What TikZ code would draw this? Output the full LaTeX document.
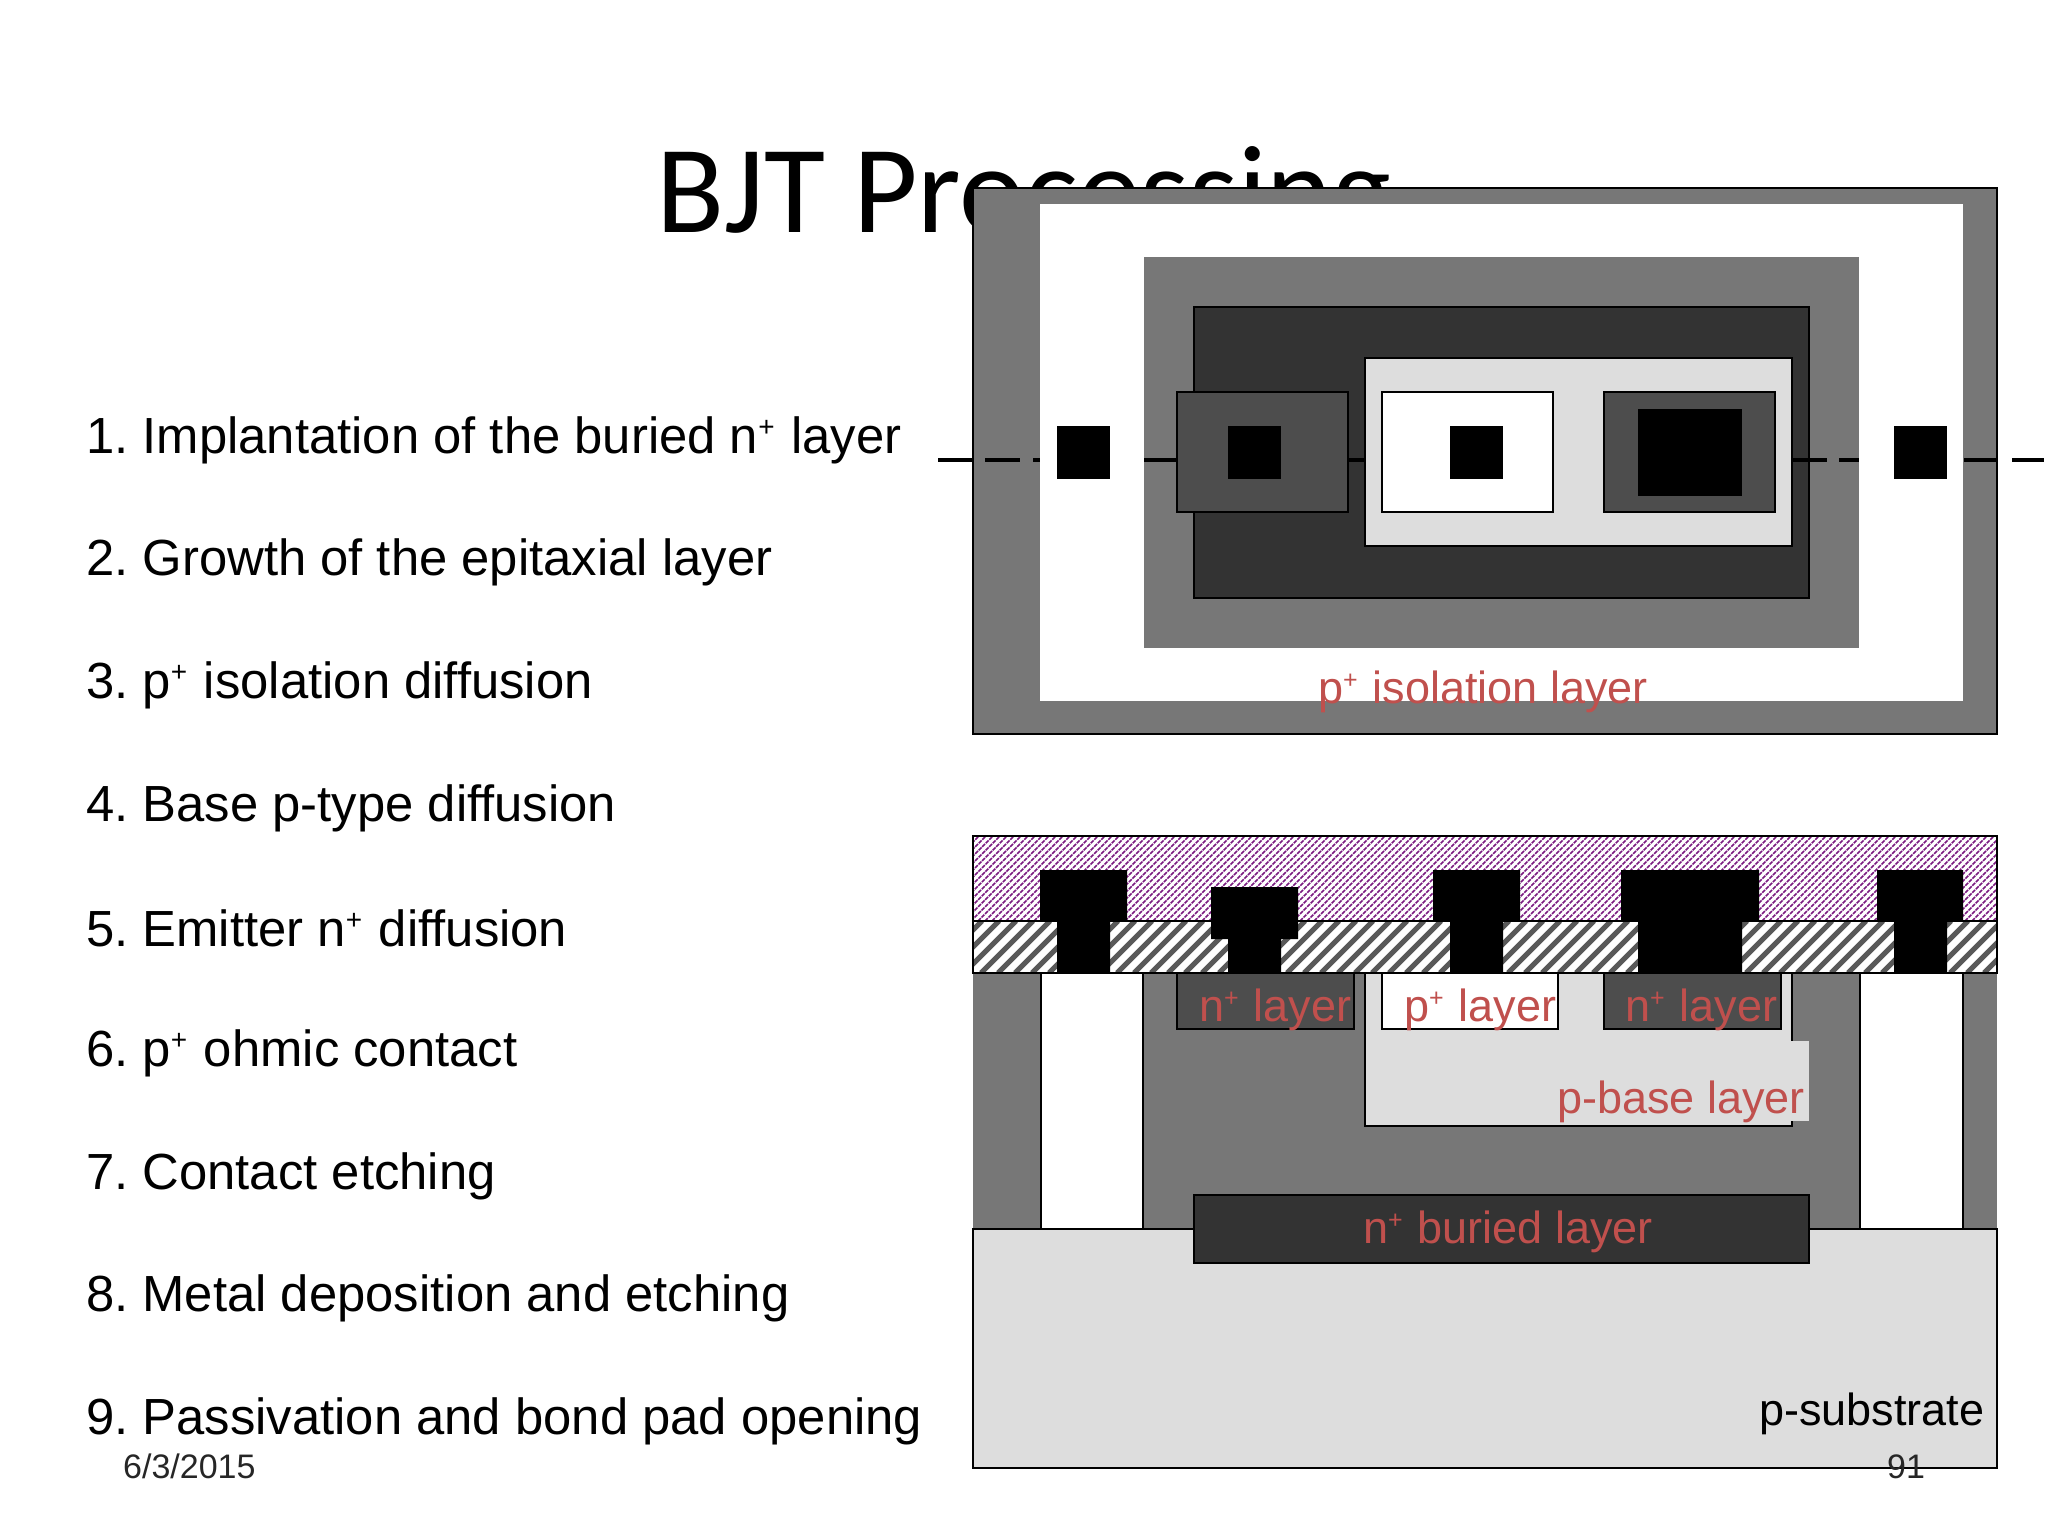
\documentclass[tikz,border=0pt]{standalone}
\usepackage{fontspec}
\setmainfont{Liberation Sans}
\newfontfamily\titlefont{Carlito}
\frenchspacing
\definecolor{gmid}{HTML}{777777}
\definecolor{gdark}{HTML}{333333}
\definecolor{gnp}{HTML}{4D4D4D}
\definecolor{glight}{HTML}{DDDDDD}
\definecolor{lab}{HTML}{C0504D}
\definecolor{purp}{HTML}{7A1A80}
\tikzset{
  x=1pt,y=-1pt,
  box/.style={draw=black,line width=1.6pt},
  cut/.style={black,line width=3.6pt},
  item/.style={anchor=base west,font=\fontsize{50.8}{60}\selectfont,inner sep=0pt,text=black},
  lbl/.style={anchor=base west,font=\fontsize{45}{52}\selectfont,inner sep=0pt,text=lab},
  foot/.style={anchor=base west,font=\fontsize{34}{40}\selectfont,inner sep=0pt,text=black!85},
}
\newcommand{\sps}{\raisebox{.33em}{\fontsize{28}{30}\selectfont +}\hspace{.05em}}
\newcommand{\spl}{\raisebox{.33em}{\fontsize{25}{27}\selectfont +}\hspace{.05em}}
\begin{document}
\begin{tikzpicture}
\useasboundingbox (0,0) rectangle (2048,1536);
\fill[white] (0,0) rectangle (2048,1536);
\node[anchor=base west,inner sep=0pt,font=\fontsize{125}{150}\selectfont\titlefont] (title) at (656,232) {BJT Processing};
% list
\node[item] (i1) at (86,453) {1. Implantation of the buried n\sps{} layer};
\node[item] (i2) at (86,575) {2. Growth of the epitaxial layer};
\node[item] (i3) at (86,698) {3. p\sps{} isolation diffusion};
\node[item] (i4) at (86,821) {4. Base p-type diffusion};
\node[item] (i5) at (86,946) {5. Emitter n\sps{} diffusion};
\node[item] (i6) at (86,1066) {6. p\sps{} ohmic contact};
\node[item] (i7) at (86,1189) {7. Contact etching};
\node[item] (i8) at (86,1311) {8. Metal deposition and etching};
\node[item] (i9) at (86,1434) {9. Passivation and bond pad opening};
% top panel
\filldraw[fill=gmid,box] (973,188) rectangle (1997,734);
\fill[white] (1040,204) rectangle (1963,701);
\fill[gmid] (1144,257) rectangle (1859,648);
\filldraw[fill=gdark,box] (1194,307) rectangle (1809,598);
\foreach \a/\b in {938/972,985/1020,1033/1040,1144/1177,1348/1365,1792/1827,1839/1859,1964/1997,2012/2044}
  \draw[cut] (\a,460) -- (\b,460);
\filldraw[fill=glight,box] (1365,358) rectangle (1792,546);
\filldraw[fill=gnp,box] (1177,392) rectangle (1348,512);
\filldraw[fill=white,box] (1382,392) rectangle (1553,512);
\filldraw[fill=gnp,box] (1604,392) rectangle (1775,512);
\fill[black] (1057,426) rectangle (1110,479);
\fill[black] (1228,426) rectangle (1281,479);
\fill[black] (1450,426) rectangle (1503,479);
\fill[black] (1638,409) rectangle (1742,496);
\fill[black] (1894,426) rectangle (1947,479);
\node[lbl] (iso) at (1318,703) {p\spl{} isolation layer};
% bottom panel
\fill[gmid] (973,973) rectangle (1997,1229);
\fill[white] (1041,973) rectangle (1143,1229);
\fill[white] (1860,973) rectangle (1963,1229);
\draw[box] (1041,973) -- (1041,1229) (1143,973) -- (1143,1229) (1860,973) -- (1860,1229) (1963,973) -- (1963,1229);
\filldraw[fill=glight,box] (973,1229) rectangle (1997,1468);
\filldraw[fill=glight,box] (1365,973) rectangle (1792,1126);
\fill[glight] (1760,1041) rectangle (1809,1121);
\filldraw[fill=gnp,box] (1177,973) rectangle (1354,1029);
\filldraw[fill=white,box] (1382,973) rectangle (1558,1029);
\filldraw[fill=gnp,box] (1604,973) rectangle (1781,1029);
\filldraw[fill=gdark,box] (1194,1195) rectangle (1809,1263);
% passivation
\fill[white] (973,836) rectangle (1997,921);
\begin{scope}
  \clip (973,836) rectangle (1997,921);
  \foreach \k in {0,7,...,1120}
    \draw[purp,line width=1.6pt,dash pattern=on 4pt off 1pt] (880+\k,921) -- (965+\k,836);
\end{scope}
\draw[box] (973,836) rectangle (1997,921);
% oxide
\fill[white] (973,921) rectangle (1997,973);
\begin{scope}
  \clip (973,921) rectangle (1997,973);
  \foreach \k in {0,17,...,1080}
    \draw[black!65,line width=5pt] (930+\k,973) -- (982+\k,921);
\end{scope}
\draw[box] (973,921) rectangle (1997,973);
% metal
\fill[black] (1040,870) rectangle (1127,921) (1057,921) rectangle (1110,973);
\fill[black] (1211,887) rectangle (1298,939) (1228,939) rectangle (1281,973);
\fill[black] (1433,870) rectangle (1520,921) (1450,921) rectangle (1503,973);
\fill[black] (1621,870) rectangle (1759,921) (1638,921) rectangle (1742,973);
\fill[black] (1877,870) rectangle (1963,921) (1894,921) rectangle (1947,973);
% labels
\node[lbl] (n1) at (1199,1021) {n\spl{} layer};
\node[lbl] (p1) at (1404,1021) {p\spl{} layer};
\node[lbl] (n2) at (1625,1021) {n\spl{} layer};
\node[lbl] (pb) at (1557,1113) {p-base layer};
\node[lbl] (nb) at (1363,1243) {n\spl{} buried layer};
\node[lbl,text=black] (ps) at (1759,1425) {p-substrate};
\node[foot] (date) at (123,1478) {6/3/2015};
\node[foot] (pg) at (1887,1478) {91};
\end{tikzpicture}
\end{document}
